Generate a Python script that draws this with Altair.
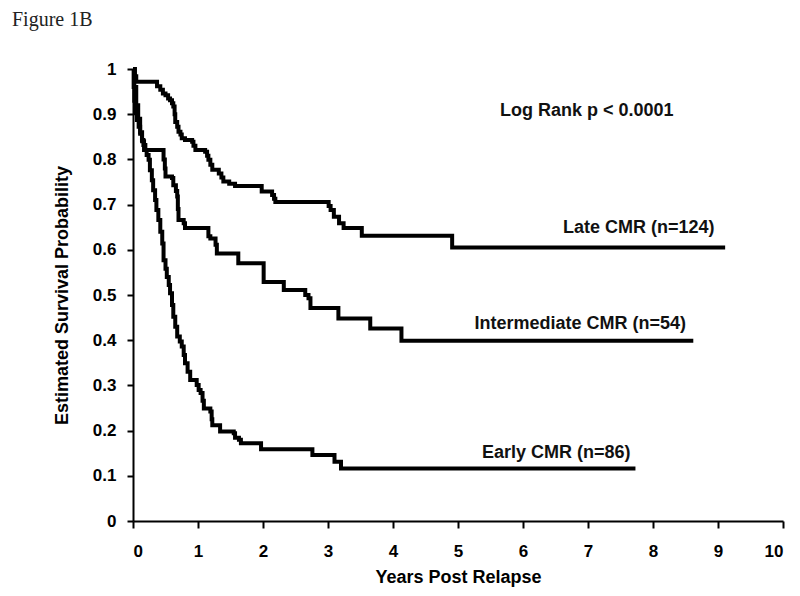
import altair as alt
import pandas as pd

# ---- Kaplan-Meier step data ----
late_t = [0, 0.03, 0.05, 0.37, 0.42, 0.46, 0.50, 0.54, 0.57, 0.60, 0.62, 0.64, 0.65, 0.68,
          0.70, 0.73, 0.75, 0.80, 0.91, 0.93, 0.96, 1.11, 1.14, 1.16, 1.19, 1.22, 1.32, 1.36,
          1.39, 1.48, 1.57, 1.98, 2.14, 2.17, 2.19, 3.01, 3.04, 3.09, 3.17, 3.24, 3.52, 4.91, 9.11]
late_s = [1.0, 0.984, 0.972, 0.962, 0.954, 0.946, 0.942, 0.935, 0.931, 0.924, 0.917, 0.900, 0.883, 0.872,
          0.861, 0.855, 0.847, 0.843, 0.839, 0.830, 0.821, 0.817, 0.808, 0.799, 0.788, 0.777, 0.769, 0.760,
          0.751, 0.746, 0.741, 0.729, 0.721, 0.713, 0.706, 0.697, 0.688, 0.673, 0.659, 0.648, 0.631, 0.605, 0.605]

inter_t = [0, 0.02, 0.05, 0.08, 0.11, 0.14, 0.17, 0.47, 0.49, 0.50, 0.60, 0.62, 0.66, 0.68, 0.69,
           0.70, 0.78, 0.80, 1.16, 1.19, 1.27, 1.29, 1.62, 2.01, 2.32, 2.65, 2.70, 2.73, 3.16, 3.65, 4.13, 8.62]
inter_s = [1.0, 0.96, 0.92, 0.89, 0.86, 0.84, 0.821, 0.80, 0.78, 0.762, 0.759, 0.743, 0.73, 0.718, 0.69,
           0.666, 0.659, 0.648, 0.63, 0.625, 0.611, 0.592, 0.570, 0.529, 0.511, 0.50, 0.493, 0.471, 0.448, 0.426, 0.399, 0.399]

early_t = [0, 0.01, 0.02, 0.036, 0.06, 0.087, 0.11, 0.138, 0.16, 0.19, 0.21, 0.24, 0.26, 0.29, 0.31,
           0.34, 0.36, 0.39, 0.42, 0.45, 0.47, 0.50, 0.52, 0.55, 0.57, 0.60, 0.62, 0.65, 0.68, 0.72,
           0.75, 0.78, 0.80, 0.84, 0.88, 0.98, 1.01, 1.04, 1.07, 1.09, 1.19, 1.21, 1.22, 1.34, 1.55,
           1.57, 1.63, 1.66, 1.97, 2.76, 3.10, 3.20, 7.73]
early_s = [1.0, 0.96, 0.93, 0.902, 0.887, 0.872, 0.857, 0.843, 0.832, 0.821, 0.81, 0.799, 0.776, 0.754, 0.732,
           0.710, 0.688, 0.666, 0.640, 0.614, 0.577, 0.558, 0.540, 0.522, 0.504, 0.478, 0.452, 0.43, 0.408, 0.397,
           0.386, 0.367, 0.349, 0.33, 0.312, 0.301, 0.29, 0.283, 0.266, 0.249, 0.242, 0.225, 0.212, 0.198, 0.194,
           0.184, 0.18, 0.172, 0.159, 0.146, 0.131, 0.116, 0.116]

groups = ["Late", "Intermediate", "Early"]

label_text = ["Log Rank p < 0.0001", "Late CMR (n=124)", "Intermediate CMR (n=54)", "Early CMR (n=86)"]
label_x = [6.98, 7.78, 6.88, 6.51]
label_y = [0.896, 0.638, 0.424, 0.139]

figure_title = ["Figure 1B"]

x_ticks = [0, 1, 2, 3, 4, 5, 6, 7, 8, 9, 10]
y_ticks = [0, 0.1, 0.2, 0.3, 0.4, 0.5, 0.6, 0.7, 0.8, 0.9, 1]

# ---- build tables ----
rows = []
for g, ts, ss in zip(groups, [late_t, inter_t, early_t], [late_s, inter_s, early_s]):
    for i, (t, s) in enumerate(zip(ts, ss)):
        rows.append({"group": g, "i": i, "t": t, "s": s})
df = pd.DataFrame(rows)
lab = pd.DataFrame({"label": label_text, "t": label_x, "s": label_y})
ttl = pd.DataFrame({"label": figure_title})

FONT = "Liberation Sans"

x_enc = alt.X("t:Q", scale=alt.Scale(domain=[0, 10], nice=False),
              axis=alt.Axis(values=x_ticks, format="d", title="Years Post Relapse",
                            tickSize=7, labelPadding=15, titlePadding=9))
y_enc = alt.Y("s:Q", scale=alt.Scale(domain=[0, 1], nice=False),
              axis=alt.Axis(values=y_ticks, format="~g", title="Estimated Survival Probability",
                            tickSize=6, labelPadding=11, titlePadding=21))

lines = alt.Chart(df).mark_line(
    interpolate="step-after", strokeWidth=4, color="black", strokeJoin="miter", strokeCap="butt"
).encode(x=x_enc, y=y_enc, detail="group:N", order="i:Q")

texts = alt.Chart(lab).mark_text(
    font=FONT, fontWeight="bold", fontSize=18, align="center", baseline="alphabetic", color="#111111"
).encode(x=x_enc, y=y_enc, text="label:N")

fig_title = alt.Chart(ttl).mark_text(
    font="Liberation Serif", fontSize=20, align="left", baseline="alphabetic", color="#222222"
).encode(x=alt.value(-121), y=alt.value(-43), text="label:N")

chart = alt.layer(lines, texts, fig_title).properties(
    width=650, height=452,
    autosize=alt.AutoSizeParams(type="none"),
    padding={"left": 125, "top": 61, "right": 9, "bottom": 67},
).configure_view(stroke=None).configure_axis(
    grid=False, domainColor="black", domainWidth=2, tickColor="black", tickWidth=2,
    labelColor="black", titleColor="black", labelFont=FONT, titleFont=FONT,
    labelFontWeight="bold", titleFontWeight="bold", labelFontSize=17, titleFontSize=18,
)

chart.save("out.html", embed_options={"renderer": "svg", "actions": False})
